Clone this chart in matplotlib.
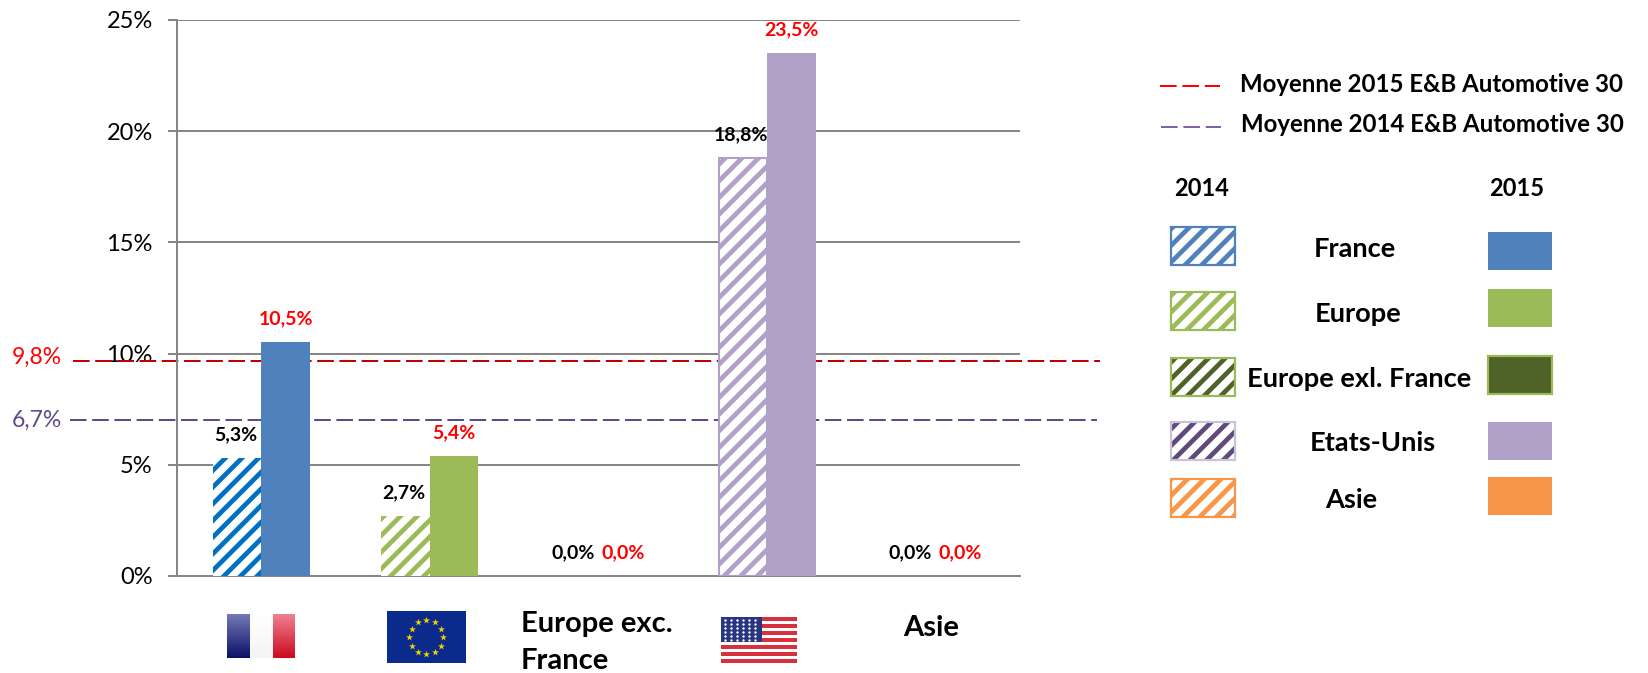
import numpy as np
import matplotlib
matplotlib.use("Agg")
import matplotlib.pyplot as plt
from matplotlib.colors import LinearSegmentedColormap
from matplotlib.patches import Rectangle

# Valeurs
categories = ["France", "Europe", "Europe exc. France", "Etats-Unis", "Asie"]
valeurs_2014 = [5.3, 2.7, 0.0, 18.8, 0.0]
valeurs_2015 = [10.5, 5.4, 0.0, 23.5, 0.0]
labels_2014 = ["5,3%", "2,7%", "0,0%", "18,8%", "0,0%"]
labels_2015 = ["10,5%", "5,4%", "0,0%", "23,5%", "0,0%"]
couleurs_2014 = ["#0070C0", "#9BBB59", "#4F6228", "#B1A0C7", "#F79646"]
couleurs_2015 = ["#4F81BD", "#9BBB59", "#4F6228", "#B1A0C7", "#F79646"]
yticks = [0, 5, 10, 15, 20, 25]
moyenne_2015 = 9.67
moyenne_2014 = 7.03

legende_noms = ["France", "Europe", "Europe exl. France", "Etats-Unis", "Asie"]
legende_hachures = ["#4F81BD", "#9BBB59", "#4F6228", "#604A7B", "#F79646"]
legende_bords = ["#4F81BD", "#9BBB59", "#9BBB59", "#CCC1DA", "#F79646"]
legende_pleins = ["#4F81BD", "#9BBB59", "#4F6228", "#B1A0C7", "#F79646"]

W, H = 1649, 673
GRIS = "#868686"
ROUGE = "#FF0000"
VIOLET = "#5F4B8B"

plt.rcParams["font.family"] = ["Lato", "DejaVu Sans"]
plt.rcParams["hatch.linewidth"] = 3.4

fig = plt.figure(figsize=(W / 100, H / 100), dpi=100)
ax = fig.add_axes([177 / W, 1 - 576 / H, 843 / W, 556 / H])

x = np.arange(len(categories))
largeur = 0.288
for i in x:
    ax.bar(i - largeur / 2, valeurs_2014[i], largeur, color="white", edgecolor=couleurs_2014[i],
           hatch="//", linewidth=1.5 if i == 3 else 0, zorder=3)
    ax.bar(i + largeur / 2, valeurs_2015[i], largeur, color=couleurs_2015[i], zorder=3)
    ax.annotate(labels_2014[i], (i - largeur / 2, valeurs_2014[i]), xytext=(-1, 17), textcoords="offset points",
                ha="center", va="center", fontsize=14, fontweight="bold", color="black", zorder=5)
    ax.annotate(labels_2015[i], (i + largeur / 2, valeurs_2015[i]), xytext=(0, 17), textcoords="offset points",
                ha="center", va="center", fontsize=14, fontweight="bold", color=ROUGE, zorder=5)

# Moyennes, elles debordent de la zone du graphique
tr = ax.get_yaxis_transform()
ax.plot([-0.123, 1.095], [moyenne_2015, moyenne_2015], transform=tr, color="#C00000", lw=1.44,
        dashes=(8.3, 2.8), clip_on=False, zorder=2)
ax.plot([-0.127, 1.091], [moyenne_2014, moyenne_2014], transform=tr, color=VIOLET, lw=1.44,
        dashes=(8.3, 2.8), clip_on=False, zorder=2)

ax.set_xlim(-0.5, 4.5)
ax.set_ylim(0, 25)
ax.set_yticks(yticks)
ax.set_yticklabels([f"{v}%" for v in yticks], fontsize=17)
ax.set_xticks([])
ax.tick_params(axis="y", length=6.5, width=1.44, color=GRIS, pad=11)
ax.grid(axis="y", color=GRIS, lw=1.44, zorder=1)
ax.set_axisbelow(True)
for s in ["top", "right"]:
    ax.spines[s].set_visible(False)
for s in ["left", "bottom"]:
    ax.spines[s].set_color(GRIS)
    ax.spines[s].set_linewidth(1.44)

# Calque en pixels pour la legende et les drapeaux
px = fig.add_axes([0, 0, 1, 1], facecolor="none")
px.set_xlim(0, W)
px.set_ylim(H, 0)
px.axis("off")

px.text(62, 357, "9,8%", color=ROUGE, fontsize=16.5, ha="right", va="center")
px.text(62, 420, "6,7%", color=VIOLET, fontsize=16.5, ha="right", va="center")

px.plot([1160, 1220], [86, 86], color=ROUGE, lw=1.44, dashes=(8.3, 2.9))
px.plot([1161, 1221], [127, 127], color="#8064A2", lw=1.44, dashes=(8.3, 2.9))
px.text(1240, 84, "Moyenne 2015 E&B Automotive 30", fontsize=17.3, fontweight="bold", va="center")
px.text(1241, 124, "Moyenne 2014 E&B Automotive 30", fontsize=17.3, fontweight="bold", va="center")
px.text(1202, 189, "2014", fontsize=17, fontweight="bold", ha="center", va="center")
px.text(1517, 189, "2015", fontsize=17, fontweight="bold", ha="center", va="center")

y_hachure = [227, 292, 358, 422, 479]
y_plein = [232, 289, 356, 422, 477]
x_nom = [1355, 1358, 1359, 1373, 1351]
y_nom = [249, 314, 379, 443, 500]
for i, nom in enumerate(legende_noms):
    px.add_patch(Rectangle((1171, y_hachure[i]), 64, 38, facecolor="white", edgecolor=legende_hachures[i],
                           hatch="//", linewidth=0))
    px.add_patch(Rectangle((1171, y_hachure[i]), 64, 38, fill=False, edgecolor=legende_bords[i], lw=1.6))
    px.add_patch(Rectangle((1488, y_plein[i]), 64, 38, facecolor=legende_pleins[i], edgecolor=legende_bords[i],
                           lw=1.6 if i == 2 else 0))
    px.text(x_nom[i], y_nom[i], nom, fontsize=19.6, fontweight="bold", ha="center", va="center")

px.text(521, 624, "Europe exc.", fontsize=21, fontweight="bold", va="center")
px.text(521, 669, "France", fontsize=21, fontweight="bold", va="baseline")
px.text(931, 628, "Asie", fontsize=21, fontweight="bold", ha="center", va="center")


def degrade(x0, x1, y0, y1, haut, bas):
    cmap = LinearSegmentedColormap.from_list("d", [haut, bas])
    px.imshow(np.linspace(0, 1, 40).reshape(-1, 1), cmap=cmap, extent=(x0, x1, y1, y0), aspect="auto", zorder=2)


# Drapeau France
degrade(227, 250, 614, 658, "#7478B4", "#0A1268")
degrade(250, 273, 614, 658, "#FFFFFF", "#F4F4F4")
degrade(273, 295, 614, 658, "#EE8090", "#CC0A20")

# Drapeau Europe
px.add_patch(Rectangle((387, 611), 79, 52, facecolor="#0A2A8C", zorder=2))
angles = np.arange(12) * np.pi / 6
px.scatter(426.5 + 17 * np.cos(angles), 637 + 17 * np.sin(angles), marker="*", s=28, color="#F5D000",
           linewidths=0, zorder=3)

# Drapeau Etats-Unis
for k in range(13):
    c = "#D8303C" if k % 2 == 0 else "#FFFFFF"
    px.add_patch(Rectangle((721, 617 + k * 46 / 13), 76, 46 / 13, facecolor=c, lw=0, zorder=2))
px.add_patch(Rectangle((721, 617), 41, 25, facecolor="#2A3580", lw=0, zorder=3))
gx, gy = np.meshgrid(np.arange(725, 760, 6), np.arange(620, 641, 4))
px.scatter(gx.ravel(), gy.ravel(), s=3, color="white", linewidths=0, zorder=4)

px.set_xlim(0, W)
px.set_ylim(H, 0)

fig.savefig("out.png", dpi=100)
